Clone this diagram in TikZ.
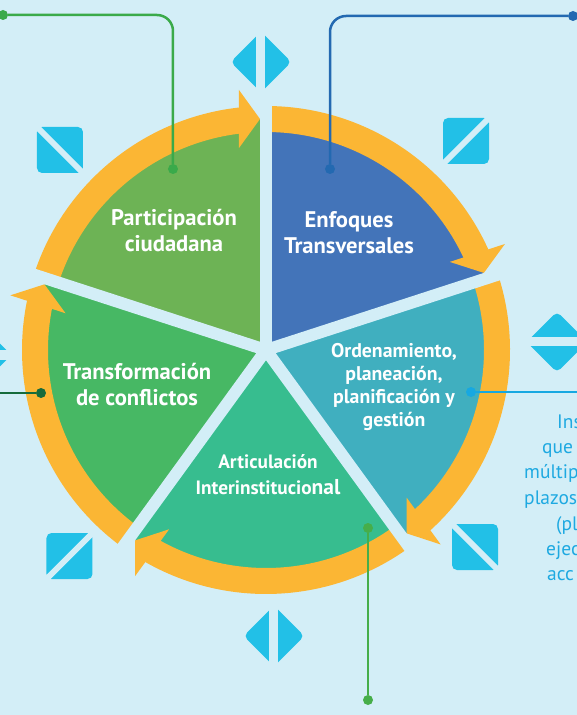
\documentclass[tikz,border=0pt]{standalone}
\usepackage{fontspec}
\setmainfont{PT Sans}
\definecolor{fondo}{HTML}{D3EEF7}
\definecolor{anillo}{HTML}{FBB634}
\definecolor{icono}{HTML}{22C0E7}
\definecolor{partic}{HTML}{6DB355}
\definecolor{enfoq}{HTML}{4374B9}
\definecolor{orden}{HTML}{40AFBF}
\definecolor{artic}{HTML}{37BD8F}
\definecolor{transf}{HTML}{47B864}
\definecolor{lineaA}{HTML}{3AAA4A}
\definecolor{lineaB}{HTML}{2369B1}
\definecolor{lineaC}{HTML}{17A8E1}
\definecolor{lineaD}{HTML}{166B3B}
\definecolor{lineaE}{HTML}{46AE4A}
\definecolor{textoazul}{HTML}{1EA9E1}
\begin{document}
\begin{tikzpicture}[x=1pt,y=1pt,
  ring/.style={draw=anillo, line width=26pt},
  gapline/.style={draw=fondo, line width=12pt},
  biglabel/.style={text=white, align=center, font=\bfseries\fontsize{22.6}{26}\selectfont},
  smalllabel/.style={text=white, align=center, font=\bfseries\fontsize{19.8}{23}\selectfont},
  sidetext/.style={anchor=base west, text=textoazul, inner sep=0pt, font=\fontsize{19.5}{25}\selectfont},
  dot/.style={circle, inner sep=0pt, minimum size=10pt},
  link/.style={line width=2.5pt},
  icon/.style={fill=icono, rounded corners=5pt},
  icongap/.style={draw=fondo, line width=6pt}]

% Background
\fill[fondo] (-266,-365) rectangle (311,350);
\useasboundingbox (-266,-365) rectangle (311,350);
\clip (-266,-365) rectangle (311,350);

% Sectors
\fill[partic] (0,0) -- (162:231) arc[start angle=162, end angle=90, radius=231] -- cycle;
\fill[enfoq] (0,0) -- (90:231) arc[start angle=90, end angle=18, radius=231] -- cycle;
\fill[orden] (0,0) -- (18:231) arc[start angle=18, end angle=-54, radius=231] -- cycle;
\fill[artic] (0,0) -- (-54:231) arc[start angle=-54, end angle=-126, radius=231] -- cycle;
\fill[transf] (0,0) -- (-126:231) arc[start angle=-126, end angle=-198, radius=231] -- cycle;

% Ring arrows
\foreach \a/\b in {162/90, 90/18, 18/-54, -54/-126, -126/-198} {
  \pgfmathsetmacro{\e}{\b+6.3}
  \draw[ring] (\a:231) arc[start angle=\a, end angle=\e, radius=231];
  \fill[anillo, rotate=\b-90] (-27,202) -- (-6,231) -- (-27,260) -- cycle;
}

% Gaps
\foreach \s in {90,18,-54,-126,162}
  \draw[gapline] (0,0) -- (\s:270);

% Labels
\node[biglabel] (participacion) at (-92,119) {Participación\\ciudadana};
\node[biglabel] (enfoques) at (83,117) {Enfoques\\Transversales};
\node[smalllabel] (ordenamiento) at (128,-37) {Ordenamiento,\\planeación,\\planificación y\\gestión};
\node[biglabel] (transformacion) at (-129,-35) {Transformación\\de conflictos};
\node[smalllabel, font=\bfseries\fontsize{19.3}{26}\selectfont] (articulacion) at (2,-125)
  {Articulación\\Interinstitucio{\fontsize{21.5}{26}\selectfont nal}};

% Icons
\fill[icon] (-229,177) rectangle (-183,223);
\draw[icongap] (-232,226) -- (-180,174);
\fill[icon] (177,186) rectangle (223,232);
\draw[icongap] (174,183) -- (226,235);
\fill[icon] (-219.5,-229) rectangle (-173.5,-183);
\draw[icongap] (-222.5,-232) -- (-170.5,-180);
\fill[icon] (186,-220) rectangle (232,-174);
\draw[icongap] (183,-171) -- (235,-223);
\fill[icon, rotate around={45:(-5,288)}] (-26.5,266.5) rectangle (16.5,309.5);
\draw[fondo, line width=9pt] (-5,255) -- (-5,321);
\fill[icon, rotate around={45:(8,-286)}] (-13.5,-307.5) rectangle (29.5,-264.5);
\draw[fondo, line width=9pt] (8,-319) -- (8,-253);
\fill[icon, rotate around={45:(291,8)}] (269.5,-13.5) rectangle (312.5,29.5);
\draw[fondo, line width=9pt] (258,8) -- (324,8);
\fill[icon, rotate around={45:(-285,-5)}] (-306.5,-26.5) rectangle (-263.5,16.5);
\draw[fondo, line width=9pt] (-318,-5) -- (-252,-5);

% Connectors
\node[dot, fill=lineaA] (pc-a) at (-263,335) {};
\node[dot, fill=lineaA] (pc-b) at (-93,181) {};
\draw[link, lineaA, rounded corners=16pt] (pc-a) -| (pc-b);
\node[dot, fill=lineaB] (et-a) at (307,334) {};
\node[dot, fill=lineaB] (et-b) at (64,181) {};
\draw[link, lineaB, rounded corners=16pt] (et-a) -| (et-b);
\node[dot, fill=lineaC] (op-a) at (205,-42) {};
\coordinate (op-b) at (311,-42);
\draw[link, lineaC] (op-a) -- (op-b);
\node[dot, fill=lineaD] (tc-a) at (-225,-43) {};
\coordinate (tc-b) at (-266,-43);
\draw[link, lineaD] (tc-a) -- (tc-b);
\node[dot, fill=lineaE] (ai-a) at (102,-178) {};
\node[dot, fill=lineaE] (ai-b) at (102,-350) {};
\draw[link, lineaE] (ai-a) -- (ai-b);

% Side text
\node[sidetext] (s1) at (291,-78) {Ins};
\node[sidetext] (s2) at (276,-103) {que};
\node[sidetext] (s3) at (258,-128) {múltip};
\node[sidetext] (s4) at (258,-154) {plazos};
\node[sidetext] (s5) at (290,-180) {(pl};
\node[sidetext] (s6) at (280,-205) {ejec};
\node[sidetext] (s7) at (281,-230) {acc};

\end{tikzpicture}
\end{document}
